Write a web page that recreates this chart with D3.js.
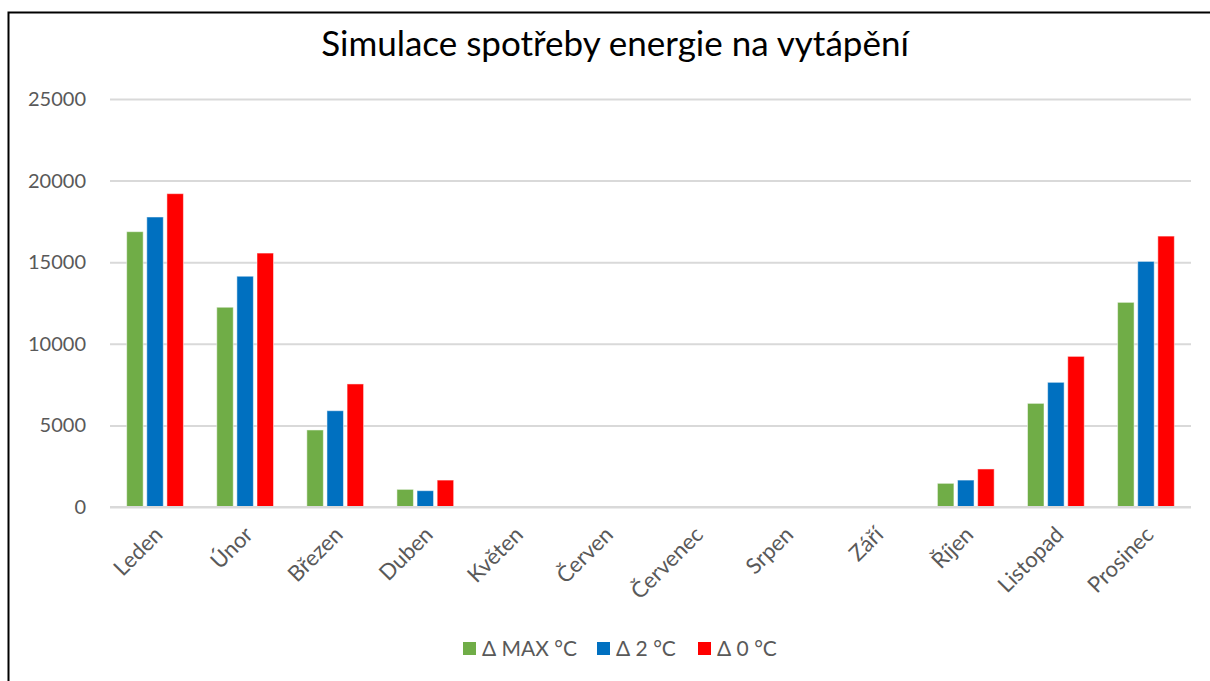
<!DOCTYPE html>
<html>
<head>
<meta charset="utf-8">
<script src="https://cdn.jsdelivr.net/npm/d3@7"></script>
<style>
  body { margin: 0; background: #fff; }
  svg { display: block; }
</style>
</head>
<body>
<div id="chart"></div>
<script>
const months = ['Leden', 'Únor', 'Březen', 'Duben', 'Květen', 'Červen', 'Červenec', 'Srpen', 'Září', 'Říjen', 'Listopad', 'Prosinec']
const seriesNames = ['Δ MAX °C', 'Δ 2 °C', 'Δ 0 °C']
const seriesColors = ['#70ad47', '#0070c0', '#ff0000']
const deltaMax = [16870, 12240, 4720, 1080, 0, 0, 0, 0, 0, 1450, 6350, 12540]
const delta2 = [17770, 14140, 5900, 1000, 0, 0, 0, 0, 0, 1650, 7640, 15050]
const delta0 = [19200, 15560, 7540, 1650, 0, 0, 0, 0, 0, 2330, 9230, 16600]
const yTicks = [0, 5000, 10000, 15000, 20000, 25000]

const series = [deltaMax, delta2, delta0]
const data = months.map((m, i) => ({
  month: m,
  values: series.map((s, k) => ({ key: seriesNames[k], value: s[i], color: seriesColors[k] }))
}))

const W = 1210
const H = 681
const margin = { top: 99, right: 19, bottom: 174, left: 110 }
const width = W - margin.left - margin.right
const height = H - margin.top - margin.bottom

const svg = d3.select('#chart')
  .append('svg')
  .attr('width', W)
  .attr('height', H)

// outer frame (cut by the window on right and bottom)
svg.append('rect')
  .attr('x', 8.5).attr('y', 12.5)
  .attr('width', W + 20).attr('height', H + 20)
  .attr('fill', 'none')
  .attr('stroke', '#000')
  .attr('stroke-width', 2)

svg.append('text')
  .attr('x', 615)
  .attr('y', 56)
  .attr('text-anchor', 'middle')
  .attr('font-family', 'Lato, "Open Sans", sans-serif')
  .attr('font-size', 35)
  .attr('fill', '#000')
  .text('Simulace spotřeby energie na vytápění')

const g = svg.append('g')
  .attr('transform', `translate(${margin.left},${margin.top})`)

const x0 = d3.scaleBand()
  .domain(months)
  .range([0, width])
  .paddingInner(0.37)
  .paddingOuter(0.185)

const x1 = d3.scaleBand()
  .domain(seriesNames)
  .range([0, x0.bandwidth()])
  .paddingInner(0.18)

const y = d3.scaleLinear()
  .domain([0, 25000])
  .range([height, 0])

// gridlines
g.append('g')
  .call(d3.axisLeft(y).tickValues(yTicks).tickSize(-width).tickFormat(''))
  .call(s => s.select('.domain').remove())
  .selectAll('line')
  .attr('stroke', '#d9d9d9')
  .attr('stroke-width', 2)

// y labels
g.append('g')
  .call(d3.axisLeft(y).tickValues(yTicks).tickSize(0).tickPadding(24).tickFormat(d3.format('d')))
  .call(s => s.select('.domain').remove())
  .selectAll('text')
  .attr('font-family', 'Lato, "Open Sans", sans-serif')
  .attr('font-size', 20)
  .attr('fill', '#595959')

// bars
const groups = g.selectAll('.month')
  .data(data)
  .enter()
  .append('g')
  .attr('transform', d => `translate(${x0(d.month)},0)`)

groups.selectAll('rect')
  .data(d => d.values)
  .enter()
  .append('rect')
  .attr('x', d => x1(d.key))
  .attr('y', d => y(d.value))
  .attr('width', x1.bandwidth())
  .attr('height', d => height - y(d.value))
  .attr('fill', d => d.color)
  .attr('stroke', '#fff')
  .attr('stroke-opacity', 0.5)
  .attr('stroke-width', 1)

// x axis line
g.append('line')
  .attr('x1', 0).attr('x2', width)
  .attr('y1', height).attr('y2', height)
  .attr('stroke', '#d9d9d9')
  .attr('stroke-width', 2)

// x labels
const xAxis = g.append('g')
  .attr('transform', `translate(0,${height})`)
  .call(d3.axisBottom(x0).tickSize(0))
xAxis.select('.domain').remove()
xAxis.selectAll('text')
  .attr('font-family', 'Lato, "Open Sans", sans-serif')
  .attr('font-size', 22)
  .attr('fill', '#595959')
  .attr('text-anchor', 'end')
  .attr('dy', null)
  .attr('y', 0)
  .attr('transform', 'translate(9,29) rotate(-45)')

// legend
const legendX = [463, 597, 698]
const legend = svg.append('g')
  .selectAll('g')
  .data(seriesNames)
  .enter()
  .append('g')
  .attr('transform', (d, i) => `translate(${legendX[i]},642)`)

legend.append('rect')
  .attr('width', 13)
  .attr('height', 13)
  .attr('fill', (d, i) => seriesColors[i])

legend.append('text')
  .attr('x', 19)
  .attr('y', 14)
  .attr('font-family', 'Lato, "Open Sans", sans-serif')
  .attr('font-size', 21)
  .attr('fill', '#595959')
  .text(d => d)
</script>
</body>
</html>
